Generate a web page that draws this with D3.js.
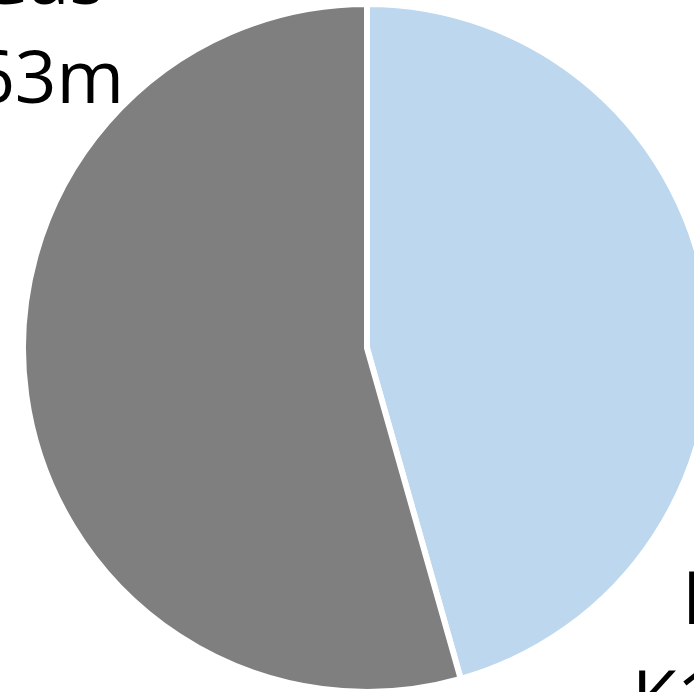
<!DOCTYPE html>
<html>
<head>
<meta charset="utf-8">
<script src="https://cdn.jsdelivr.net/npm/d3@7"></script>
<style>
  html, body { margin: 0; padding: 0; background: #ffffff; }
  svg { display: block; }
</style>
</head>
<body>
<script>
// Energy spend split, in kwacha millions
const categories = ["Electricity", "Gas"];
const values = [1059, 1263];
const valueLabels = ["K1,059m", "K1,263m"];
const colors = ["#BDD7EE", "#7F7F7F"];

const width = 694, height = 692;
const cx = 367, cy = 348, radius = 344;

const svg = d3.select("body").append("svg")
  .attr("width", width)
  .attr("height", height);

const pie = d3.pie().sort(null).value(d => d.value);
const arc = d3.arc().innerRadius(0).outerRadius(radius);

const data = categories.map((c, i) => ({ name: c, value: values[i], label: valueLabels[i], color: colors[i] }));

const g = svg.append("g").attr("transform", `translate(${cx},${cy})`);

g.selectAll("path")
  .data(pie(data))
  .join("path")
  .attr("d", arc)
  .attr("fill", d => d.data.color)
  .attr("stroke", "#ffffff")
  .attr("stroke-width", 6)
  .attr("stroke-linejoin", "miter");

// Data labels: category name above, value below
const font = "'Open Sans', sans-serif";
const fontSize = 73;
const lineGap = 99;

const labelPos = [
  { x1: 682, x2: 632, y: 624, anchor: "start" },   // Electricity
  { x1: 104, x2: 124, y: 4, anchor: "end" }        // Gas
];

data.forEach((d, i) => {
  const p = labelPos[i];
  const t = svg.append("text")
    .attr("font-family", font)
    .attr("font-size", fontSize)
    .attr("fill", "#000000")
    .attr("text-anchor", p.anchor);
  t.append("tspan").attr("x", p.x1).attr("y", p.y).text(d.name);
  t.append("tspan").attr("x", p.x2).attr("y", p.y + lineGap).text(d.label);
});
</script>
</body>
</html>
